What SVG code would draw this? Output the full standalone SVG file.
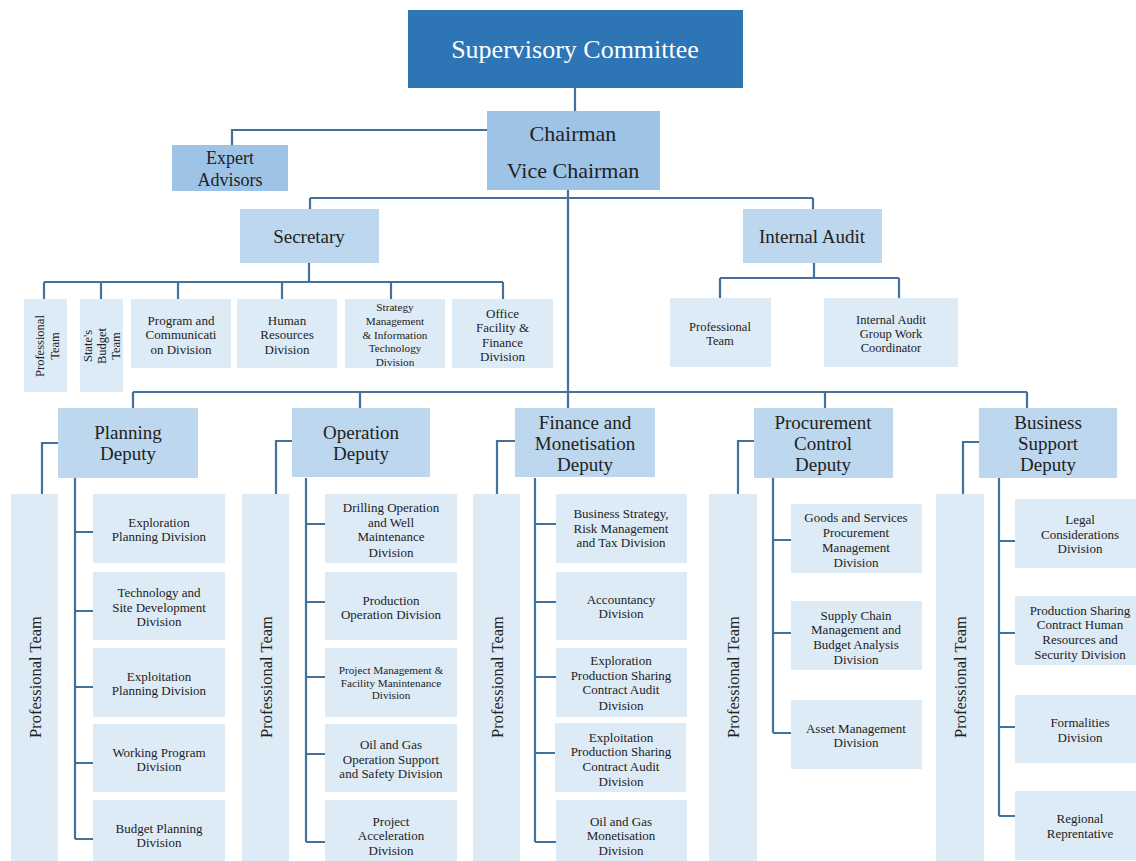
<svg xmlns="http://www.w3.org/2000/svg" width="1136" height="861" viewBox="0 0 1136 861">
<style>
.l{fill:none;stroke:#41719C;stroke-width:2.2}
.c1{fill:#2E75B6}.c2{fill:#9DC3E6}.c3{fill:#BDD7EE}.c4{fill:#DDEBF7}
text{font-family:"Liberation Serif","Times New Roman",serif;fill:#222;text-anchor:middle}
.w{fill:#fff}
.f25{font-size:26px}.f22{font-size:22px}.f19{font-size:19px}.f18{font-size:18px}
.f13{font-size:13px}.f12{font-size:12.5px}.f11{font-size:11.2px}.f16{font-size:16.5px}
</style>
<rect width="1136" height="861" fill="#fff"/>
<g id="connectors">
<path class="l" d="M575 88V111M487 130H232V145M568 190V408M310 198H813M310 198V209M813 198V209"/>
<path class="l" d="M309 263V282M44 282H503M44 282V299M101 282V299M178 282V299M282 282V299M391 282V299M503 282V299"/>
<path class="l" d="M814 263V278M720 278H899M720 278V298M899 278V298"/>
<path class="l" d="M133 392H1027M133 392V408M360 392V408M825 392V408M1027 392V408"/>
<path class="l" d="M58 443H42V494M75 478V839M75 532H93M75 611H93M75 687H93M75 763H93M75 839H93"/>
<path class="l" d="M292 441H276V494M306 478V842M306 524H325M306 602H325M306 677H325M306 754H325M306 842H325"/>
<path class="l" d="M515 441H497V494M535 478V842M535 524H556M535 602H556M535 677H556M535 753H556M535 842H556"/>
<path class="l" d="M754 441H738V494M773 478V733M773 540H791M773 633H791M773 733H791"/>
<path class="l" d="M979 442H963V494M999 478V816M999 541H1015M999 633H1015M999 727H1015M999 816H1015"/>
</g>
<g id="supervisory"><rect class="c1" x="408" y="10" width="335" height="78"/><text class="f25 w" x="575" y="58">Supervisory Committee</text></g>
<g id="chairman"><rect class="c2" x="487" y="111" width="173" height="79"/><text class="f22" x="573"><tspan x="573" y="141">Chairman</tspan><tspan x="573" y="178">Vice Chairman</tspan></text></g>
<g id="expert"><rect class="c2" x="172" y="145" width="116" height="46"/><text class="f18"><tspan x="230" y="164">Expert</tspan><tspan x="230" y="186">Advisors</tspan></text></g>
<g id="secretary"><rect class="c3" x="240" y="209" width="139" height="54"/><text class="f19" x="309" y="243">Secretary</text></g>
<g id="internal-audit"><rect class="c3" x="743" y="209" width="139" height="54"/><text class="f19" x="812" y="243">Internal Audit</text></g>
<g id="sec-prof"><rect class="c4" x="24" y="299" width="43" height="93"/><text class="f12" transform="translate(47.5 346) rotate(-90)"><tspan x="0" y="-3.3">Professional</tspan><tspan x="0" y="11.7">Team</tspan></text></g>
<g id="sec-budget"><rect class="c4" x="80" y="299" width="43" height="93"/><text class="f12" transform="translate(102 346) rotate(-90)"><tspan x="0" y="-9.8">State's</tspan><tspan x="0" y="4.2">Budget</tspan><tspan x="0" y="18.2">Team</tspan></text></g>
<g id="sec-program"><rect class="c4" x="131" y="299" width="100" height="69"/><text class="f13"><tspan x="181" y="324.5">Program and</tspan><tspan x="181" y="339">Communicati</tspan><tspan x="181" y="353.5">on Division</tspan></text></g>
<g id="sec-hr"><rect class="c4" x="237" y="299" width="100" height="69"/><text class="f13"><tspan x="287" y="324.5">Human</tspan><tspan x="287" y="339">Resources</tspan><tspan x="287" y="353.5">Division</tspan></text></g>
<g id="sec-strategy"><rect class="c4" x="345" y="299" width="100" height="69"/><text class="f11"><tspan x="395" y="311">Strategy</tspan><tspan x="395" y="325">Management</tspan><tspan x="395" y="338.5">&amp; Information</tspan><tspan x="395" y="352">Technology</tspan><tspan x="395" y="366">Division</tspan></text></g>
<g id="sec-office"><rect class="c4" x="452" y="299" width="101" height="69"/><text class="f13"><tspan x="502.5" y="317.5">Office</tspan><tspan x="502.5" y="332">Facility &amp;</tspan><tspan x="502.5" y="346.5">Finance</tspan><tspan x="502.5" y="361">Division</tspan></text></g>
<g id="ia-prof"><rect class="c4" x="670" y="298" width="101" height="69"/><text class="f12"><tspan x="720" y="330.5">Professional</tspan><tspan x="720" y="345">Team</tspan></text></g>
<g id="ia-coord"><rect class="c4" x="824" y="298" width="134" height="69"/><text class="f12"><tspan x="891" y="323.5">Internal Audit</tspan><tspan x="891" y="337.5">Group Work</tspan><tspan x="891" y="352">Coordinator</tspan></text></g>

<g id="planning-deputy"><rect class="c3" x="58" y="408" width="140" height="70"/><text class="f19"><tspan x="128" y="438.5">Planning</tspan><tspan x="128" y="459.5">Deputy</tspan></text></g>
<g id="operation-deputy"><rect class="c3" x="292" y="408" width="138" height="69"/><text class="f19"><tspan x="361" y="438.5">Operation</tspan><tspan x="361" y="459.5">Deputy</tspan></text></g>
<g id="finance-deputy"><rect class="c3" x="515" y="408" width="140" height="69"/><text class="f19"><tspan x="585" y="428.5">Finance and</tspan><tspan x="585" y="449.5">Monetisation</tspan><tspan x="585" y="470.5">Deputy</tspan></text></g>
<g id="procurement-deputy"><rect class="c3" x="754" y="408" width="139" height="70"/><text class="f19"><tspan x="823" y="428.5">Procurement</tspan><tspan x="823" y="449.5">Control</tspan><tspan x="823" y="470.5">Deputy</tspan></text></g>
<g id="business-deputy"><rect class="c3" x="979" y="408" width="138" height="70"/><text class="f19"><tspan x="1048" y="428.5">Business</tspan><tspan x="1048" y="449.5">Support</tspan><tspan x="1048" y="470.5">Deputy</tspan></text></g>

<g id="planning-prof"><rect class="c4" x="11" y="494" width="47" height="370"/><text class="f16" transform="translate(35 677) rotate(-90)" x="0" y="5.8">Professional Team</text></g>
<g id="operation-prof"><rect class="c4" x="242" y="494" width="47" height="370"/><text class="f16" transform="translate(266 677) rotate(-90)" x="0" y="5.8">Professional Team</text></g>
<g id="finance-prof"><rect class="c4" x="473" y="494" width="47" height="370"/><text class="f16" transform="translate(497 677) rotate(-90)" x="0" y="5.8">Professional Team</text></g>
<g id="procurement-prof"><rect class="c4" x="709" y="494" width="48" height="370"/><text class="f16" transform="translate(733 677) rotate(-90)" x="0" y="5.8">Professional Team</text></g>
<g id="business-prof"><rect class="c4" x="936" y="494" width="48" height="370"/><text class="f16" transform="translate(960 677) rotate(-90)" x="0" y="5.8">Professional Team</text></g>

<g id="pl-1"><rect class="c4" x="93" y="494" width="132" height="69"/><text class="f13"><tspan x="159" y="526.5">Exploration</tspan><tspan x="159" y="540.5">Planning Division</tspan></text></g>
<g id="pl-2"><rect class="c4" x="93" y="572" width="132" height="68"/><text class="f13"><tspan x="159" y="596.5">Technology and</tspan><tspan x="159" y="611.5">Site Development</tspan><tspan x="159" y="625.5">Division</tspan></text></g>
<g id="pl-3"><rect class="c4" x="93" y="648" width="132" height="69"/><text class="f13"><tspan x="159" y="680.5">Exploitation</tspan><tspan x="159" y="694.5">Planning Division</tspan></text></g>
<g id="pl-4"><rect class="c4" x="93" y="724" width="132" height="68"/><text class="f13"><tspan x="159" y="756.5">Working Program</tspan><tspan x="159" y="770.5">Division</tspan></text></g>
<g id="pl-5"><rect class="c4" x="93" y="800" width="132" height="64"/><text class="f13"><tspan x="159" y="832.5">Budget Planning</tspan><tspan x="159" y="846.5">Division</tspan></text></g>

<g id="op-1"><rect class="c4" x="325" y="494" width="132" height="69"/><text class="f13"><tspan x="391" y="511.5">Drilling Operation</tspan><tspan x="391" y="526.5">and Well</tspan><tspan x="391" y="540.5">Maintenance</tspan><tspan x="391" y="556.5">Division</tspan></text></g>
<g id="op-2"><rect class="c4" x="325" y="572" width="132" height="68"/><text class="f13"><tspan x="391" y="604.5">Production</tspan><tspan x="391" y="618.5">Operation Division</tspan></text></g>
<g id="op-3"><rect class="c4" x="325" y="648" width="132" height="69"/><text class="f11"><tspan x="391" y="674">Project Management &amp;</tspan><tspan x="391" y="686.5">Facility Manintenance</tspan><tspan x="391" y="699">Division</tspan></text></g>
<g id="op-4"><rect class="c4" x="325" y="724" width="132" height="68"/><text class="f13"><tspan x="391" y="748.5">Oil and Gas</tspan><tspan x="391" y="763.5">Operation Support</tspan><tspan x="391" y="777.5">and Safety Division</tspan></text></g>
<g id="op-5"><rect class="c4" x="325" y="800" width="132" height="64"/><text class="f13"><tspan x="391" y="825.5">Project</tspan><tspan x="391" y="839.5">Acceleration</tspan><tspan x="391" y="854.5">Division</tspan></text></g>

<g id="fi-1"><rect class="c4" x="556" y="494" width="131" height="69"/><text class="f13"><tspan x="621" y="517.5">Business Strategy,</tspan><tspan x="621" y="532.5">Risk Management</tspan><tspan x="621" y="546.5">and Tax Division</tspan></text></g>
<g id="fi-2"><rect class="c4" x="556" y="572" width="131" height="68"/><text class="f13"><tspan x="621" y="603.5">Accountancy</tspan><tspan x="621" y="617.5">Division</tspan></text></g>
<g id="fi-3"><rect class="c4" x="556" y="648" width="131" height="69"/><text class="f13"><tspan x="621" y="664.5">Exploration</tspan><tspan x="621" y="679.5">Production Sharing</tspan><tspan x="621" y="693.5">Contract Audit</tspan><tspan x="621" y="709.5">Division</tspan></text></g>
<g id="fi-4"><rect class="c4" x="555" y="723" width="131" height="69"/><text class="f13"><tspan x="621" y="741.5">Exploitation</tspan><tspan x="621" y="755.5">Production Sharing</tspan><tspan x="621" y="770.5">Contract Audit</tspan><tspan x="621" y="785.5">Division</tspan></text></g>
<g id="fi-5"><rect class="c4" x="556" y="800" width="131" height="64"/><text class="f13"><tspan x="621" y="825.5">Oil and Gas</tspan><tspan x="621" y="839.5">Monetisation</tspan><tspan x="621" y="854.5">Division</tspan></text></g>

<g id="pr-1"><rect class="c4" x="791" y="504" width="131" height="69"/><text class="f13"><tspan x="856" y="521.5">Goods and Services</tspan><tspan x="856" y="536.5">Procurement</tspan><tspan x="856" y="551.5">Management</tspan><tspan x="856" y="566.5">Division</tspan></text></g>
<g id="pr-2"><rect class="c4" x="791" y="601" width="131" height="69"/><text class="f13"><tspan x="856" y="619.5">Supply Chain</tspan><tspan x="856" y="633.5">Management and</tspan><tspan x="856" y="648.5">Budget Analysis</tspan><tspan x="856" y="663.5">Division</tspan></text></g>
<g id="pr-3"><rect class="c4" x="791" y="700" width="131" height="69"/><text class="f13"><tspan x="856" y="732.5">Asset Management</tspan><tspan x="856" y="746.5">Division</tspan></text></g>

<g id="bs-1"><rect class="c4" x="1015" y="499" width="125" height="69"/><text class="f13"><tspan x="1080" y="523.5">Legal</tspan><tspan x="1080" y="538.5">Considerations</tspan><tspan x="1080" y="552.5">Division</tspan></text></g>
<g id="bs-2"><rect class="c4" x="1015" y="596" width="125" height="69"/><text class="f13"><tspan x="1080" y="614.5">Production Sharing</tspan><tspan x="1080" y="628.5">Contract Human</tspan><tspan x="1080" y="643.5">Resources and</tspan><tspan x="1080" y="658.5">Security Division</tspan></text></g>
<g id="bs-3"><rect class="c4" x="1015" y="695" width="125" height="68"/><text class="f13"><tspan x="1080" y="726.5">Formalities</tspan><tspan x="1080" y="741.5">Division</tspan></text></g>
<g id="bs-4"><rect class="c4" x="1015" y="791" width="125" height="69"/><text class="f13"><tspan x="1080" y="822.5">Regional</tspan><tspan x="1080" y="837.5">Reprentative</tspan></text></g>
</svg>
